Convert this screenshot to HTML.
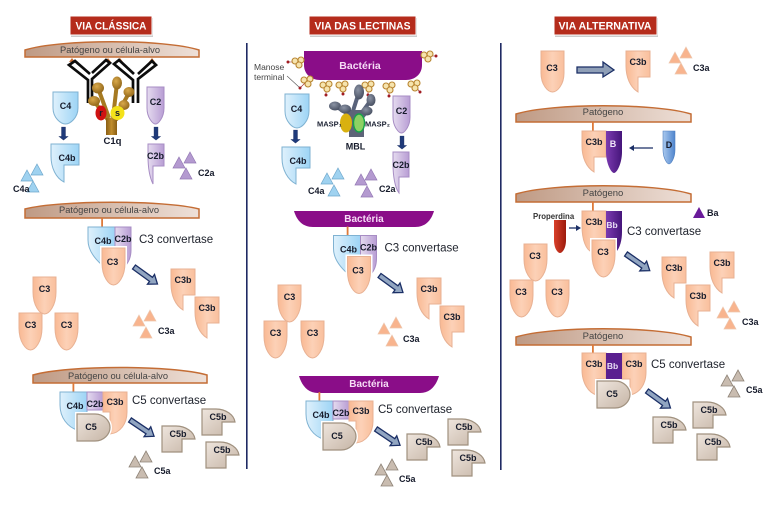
<!DOCTYPE html>
<html><head><meta charset="utf-8"><style>
html,body{margin:0;padding:0;background:#fff}
svg{display:block}
text{font-family:"Liberation Sans",sans-serif}
.l{font-size:9px;font-weight:bold;fill:#161b2b;text-anchor:middle}
.a{font-size:9px;font-weight:bold;fill:#161b2b}
.m{font-size:9.5px;fill:#444;text-anchor:middle}
.t{font-size:11px;font-weight:bold;fill:#fff;text-anchor:middle}
.c{font-size:11.5px;fill:#20242e}
.b{font-size:10px;font-weight:bold;fill:#f6dcf6;text-anchor:middle}
.o{fill:url(#go);stroke:#e8b193;stroke-width:1}
.bl{fill:url(#gb);stroke:#7fb2d2;stroke-width:1}
.p{fill:url(#gp);stroke:#a78dc4;stroke-width:1}
.g{fill:url(#gg);stroke:#a0917f;stroke-width:1.2}
.halo{fill:none;stroke:#fff;stroke-width:4}
.mem{fill:url(#gm);stroke:#c46d35;stroke-width:1.5}
.bac{fill:#8a0d88}
.ar{fill:#91a5c1;stroke:#1b2f66;stroke-width:1.3}
.ds{fill:#1f3a7a;stroke:#1b2f66;stroke-width:.8}
.tro{fill:#f8b48e;stroke:#ecc6ae;stroke-width:.7}
.trb{fill:#9fd2f0;stroke:#6fa8cc;stroke-width:.7}
.trp{fill:#b49ad0;stroke:#9479b4;stroke-width:.7}
.trg{fill:#c9bcb0;stroke:#8f8478;stroke-width:.8}
.man{fill:#f6e4ae;stroke:#b98632;stroke-width:1.1}
</style></head><body>
<svg width="767" height="508" viewBox="0 0 767 508" xmlns="http://www.w3.org/2000/svg">
<defs>
<linearGradient id="go" x1="0" y1="0" x2="1" y2="0"><stop offset="0" stop-color="#f9b993"/><stop offset=".5" stop-color="#fcd1b7"/><stop offset="1" stop-color="#f9bf9c"/></linearGradient>
<linearGradient id="gb" x1="0" y1="0" x2="1" y2="0"><stop offset="0" stop-color="#dff1fc"/><stop offset="1" stop-color="#9dd4f5"/></linearGradient>
<linearGradient id="gp" x1="0" y1="0" x2="1" y2="0"><stop offset="0" stop-color="#e5dbef"/><stop offset="1" stop-color="#b89dd4"/></linearGradient>
<linearGradient id="gg" x1="0" y1="0" x2="1" y2="1"><stop offset="0" stop-color="#eee5dd"/><stop offset="1" stop-color="#c6b5a6"/></linearGradient>
<linearGradient id="gm" x1="0" y1="0" x2="1" y2="0"><stop offset="0" stop-color="#bf9a84"/><stop offset="1" stop-color="#eee0d8"/></linearGradient>
<linearGradient id="gv" x1="0" y1="0" x2="1" y2="0"><stop offset="0" stop-color="#7b3ab0"/><stop offset="1" stop-color="#45157a"/></linearGradient>
<linearGradient id="gd" x1="0" y1="0" x2="1" y2="0"><stop offset="0" stop-color="#a9c8ee"/><stop offset="1" stop-color="#4f85cd"/></linearGradient>
<linearGradient id="gr" x1="0" y1="0" x2="1" y2="0"><stop offset="0" stop-color="#d9402a"/><stop offset="1" stop-color="#9c1a0c"/></linearGradient>
<linearGradient id="gy" x1="0" y1="0" x2="1" y2="0"><stop offset="0" stop-color="#8a5e14"/><stop offset=".5" stop-color="#c08d2d"/><stop offset="1" stop-color="#8a5e14"/></linearGradient>
<radialGradient id="gbl" cx=".4" cy=".35" r=".7"><stop offset="0" stop-color="#d9a94b"/><stop offset="1" stop-color="#8f6418"/></radialGradient>
<radialGradient id="gsl" cx=".4" cy=".35" r=".7"><stop offset="0" stop-color="#8b93a4"/><stop offset="1" stop-color="#444c5e"/></radialGradient>

<path id="c3" d="M0,0H23V15C23,29 16,37 11.5,37C7,37 0,29 0,15Z"/>
<path id="c3b" d="M0,0H24V26H12V41C4,36 0,26 0,15Z"/>
<path id="c5b" d="M0,0H14C24,0 32,6 33,13H20V26H0Z"/>
<path id="c5" d="M0,0H18C27,0 33,7 33,13.5C33,20 27,27 18,27H0Z"/>
<path id="tr" d="M0,-6L6,5H-6Z"/>
<path id="arr" d="M0,-2.5H21V-6L29,0L21,6V2.5H0Z"/>
<g id="man"><circle class="man" cx="-3" cy="-1" r="3"/><circle class="man" cx="3" cy="-2" r="3"/><circle class="man" cx="1" cy="3" r="3"/></g>
</defs>

<rect width="767" height="508" fill="#fff"/>

<!-- separators -->
<rect x="246" y="43" width="1.6" height="426" fill="#1f2a63"/>
<rect x="500" y="43" width="1.6" height="427" fill="#1f2a63"/>

<!-- titles -->
<g>
<rect x="71" y="18" width="82" height="19" fill="#ccc"/>
<rect x="70" y="16" width="82" height="19" fill="#b52c1c" stroke="#fff" stroke-width="1"/>
<text class="t" x="111" y="29.5" textLength="71" lengthAdjust="spacingAndGlyphs">VIA CLÁSSICA</text>
<rect x="310" y="18" width="107" height="19" fill="#ccc"/>
<rect x="309" y="16" width="107" height="19" fill="#b52c1c" stroke="#fff" stroke-width="1"/>
<text class="t" x="362.5" y="29.5" textLength="96" lengthAdjust="spacingAndGlyphs">VIA DAS LECTINAS</text>
<rect x="555" y="18" width="103" height="19" fill="#ccc"/>
<rect x="554" y="16" width="103" height="19" fill="#b52c1c" stroke="#fff" stroke-width="1"/>
<text class="t" x="605" y="29.5" textLength="93" lengthAdjust="spacingAndGlyphs">VIA ALTERNATIVA</text>
</g>

<!-- ===== COLUMN 1 ===== -->
<path class="mem" d="M25,57V50C60,39 164,39 199,50V57Z"/>
<text class="m" x="110" y="53" textLength="100" lengthAdjust="spacingAndGlyphs">Patógeno ou célula-alvo</text>
<g fill="#c46d35"><path d="M72,58l-3,4h6zM108,58l-3,4h6zM120,58l-3,4h6zM152,58l-3,4h6z"/></g>

<!-- antibodies -->
<g fill="none" stroke="#0c0c0c" stroke-width="2.7">
<path d="M88,103V80L69,65L75,61L90,74"/><path d="M92,103V79L110,63L106,60L92,73"/>
<path d="M133,103V80L114,64L119,60L134,74"/><path d="M138,103V79L156,65L152,61L138,74"/>
</g>
<!-- C1q -->
<g stroke="#a67a22" stroke-width="4" fill="none">
<path d="M109,118L98,88"/><path d="M108,120L94,101"/><path d="M113,118L117,83"/><path d="M115,118L129,93"/><path d="M116,120L124,105"/>
</g>
<rect x="106" y="118" width="11" height="17" fill="url(#gy)"/>
<g fill="url(#gbl)"><ellipse cx="98" cy="88" rx="6" ry="5.500"/><ellipse cx="94" cy="101" rx="6" ry="5"/><ellipse cx="117" cy="83" rx="5" ry="6.500"/><ellipse cx="129" cy="92" rx="5.500" ry="5"/><ellipse cx="124" cy="105" rx="5.500" ry="5"/></g>
<ellipse cx="101" cy="113" rx="5.500" ry="7.500" fill="#cf1212"/>
<ellipse cx="117.500" cy="113" rx="7" ry="7" fill="#f4e21a"/>
<text class="l" x="101" y="116">r</text><text class="l" x="117.500" y="116">s</text>
<text class="l" x="112.500" y="144" style="font-size:9.500px">C1q</text>

<path class="bl" d="M53,92H78V108C78,118 70,124 65.500,124C61,124 53,118 53,108Z"/>
<text class="l" x="65.500" y="109">C4</text>
<path class="p" d="M147,87H164V108C164,118 158,124 155.500,124C153,124 147,118 147,108Z"/>
<text class="l" x="155.500" y="105">C2</text>
<g transform="translate(63.500,127) rotate(90)"><use href="#arr" class="ds" transform="scale(.45,.75)"/></g>
<g transform="translate(156,127) rotate(90)"><use href="#arr" class="ds" transform="scale(.45,.75)"/></g>
<path class="bl" d="M51,144H79V165H64V182C56,178 51,168 51,156Z"/>
<text class="l" x="67" y="161">C4b</text>
<path class="p" d="M148,144H164V166H153V184C150,178 148,168 148,156Z"/>
<text class="l" x="155.500" y="159">C2b</text>
<use href="#tr" class="trb" x="27" y="176"/><use href="#tr" class="trb" x="37" y="170"/><use href="#tr" class="trb" x="33" y="187"/>
<text class="a" x="13" y="192">C4a</text>
<use href="#tr" class="trp" x="179" y="163"/><use href="#tr" class="trp" x="190" y="158"/><use href="#tr" class="trp" x="186" y="174"/>
<text class="a" x="198" y="176">C2a</text>

<!-- C3 convertase col 1 -->
<path class="mem" d="M25,218V209C60,200 164,200 199,209V218Z"/>
<text class="m" x="109" y="213" textLength="100" lengthAdjust="spacingAndGlyphs">Patógeno ou célula-alvo</text>
<g id="conv3">
<rect x="101.200" y="218" width="1.800" height="9" fill="#dd7a3a"/>
<path class="bl" d="M88,227H115V265H102C94,258 88,250 88,240Z"/>
<path class="p" d="M115,227H131V250C131,258 128,263 125,266V248H115Z"/>
<use href="#c3" class="halo" x="102" y="248"/>
<use href="#c3" class="o" x="102" y="248"/>
<text class="l" x="103" y="244">C4b</text><text class="l" x="123" y="242">C2b</text><text class="l" x="112.500" y="265">C3</text>
<text class="c" x="139" y="243">C3 convertase</text>
<use href="#arr" class="ar" transform="translate(134,267) rotate(36)"/>
</g>
<use href="#c3" class="o" x="33" y="277"/><text class="l" x="44.500" y="292">C3</text>
<use href="#c3" class="o" x="19" y="313"/><text class="l" x="30.500" y="328">C3</text>
<use href="#c3" class="o" x="55" y="313"/><text class="l" x="66.500" y="328">C3</text>
<use href="#c3b" class="o" x="171" y="269"/><text class="l" x="183" y="283">C3b</text>
<use href="#c3b" class="o" x="195" y="297"/><text class="l" x="207" y="311">C3b</text>
<use href="#tr" class="tro" x="139" y="321"/><use href="#tr" class="tro" x="150" y="316"/><use href="#tr" class="tro" x="146" y="333"/>
<text class="a" x="158" y="334">C3a</text>

<!-- C5 convertase col 1 -->
<path class="mem" d="M33,383V375C68,365 172,365 207,375V383Z"/>
<text class="m" x="118" y="379" textLength="100" lengthAdjust="spacingAndGlyphs">Patógeno ou célula-alvo</text>
<g id="conv5">
<rect x="72.500" y="383" width="1.800" height="9" fill="#dd7a3a"/>
<path class="bl" d="M60,392H87V414H77V430C68,427 60,418 60,405Z"/>
<path class="p" d="M87,392H103V410H87Z"/>
<path class="o" d="M103,392H127V412C127,424 120,433 110,434V412H103Z"/>
<use href="#c5" class="halo" x="77" y="414"/>
<use href="#c5" class="g" x="77" y="414"/>
<text class="l" x="75" y="409">C4b</text><text class="l" x="95" y="407">C2b</text><text class="l" x="115" y="405">C3b</text><text class="l" x="91" y="430">C5</text>
<text class="c" x="132" y="404">C5 convertase</text>
<use href="#arr" class="ar" transform="translate(130,420) rotate(34)"/>
</g>
<use href="#c5b" class="g" x="162" y="426"/><text class="l" x="178" y="437">C5b</text>
<use href="#c5b" class="g" x="202" y="409"/><text class="l" x="218" y="420">C5b</text>
<use href="#c5b" class="g" x="206" y="442"/><text class="l" x="222" y="453">C5b</text>
<use href="#tr" class="trg" x="135" y="462"/><use href="#tr" class="trg" x="146" y="457"/><use href="#tr" class="trg" x="142" y="473"/>
<text class="a" x="154" y="474">C5a</text>

<!-- ===== COLUMN 2 ===== -->
<path class="bac" d="M304,51H422V65C422,74 415,80 406,80H320C311,80 304,74 304,65Z"/>
<text class="b" x="360" y="69" style="font-size:10.500px">Bactéria</text>
<!-- mannose -->
<g stroke="#a0262a" stroke-width=".6" fill="#a3141c">
<path d="M288,62L298,62M300,88L307,81M326,95V86M343,94L342,86M368,95V86M389,96V87M420,92L414,85M436,56L427,56" fill="none"/>
<circle cx="288" cy="62" r="1.200"/><circle cx="300" cy="88" r="1.200"/><circle cx="326" cy="95" r="1.200"/><circle cx="343" cy="94" r="1.200"/><circle cx="368" cy="95" r="1.200"/><circle cx="389" cy="96" r="1.200"/><circle cx="420" cy="92" r="1.200"/><circle cx="436" cy="56" r="1.200"/>
</g>
<use href="#man" x="298" y="62"/><use href="#man" x="307" y="81"/><use href="#man" x="326" y="86"/><use href="#man" x="342" y="86"/><use href="#man" x="368" y="86"/><use href="#man" x="389" y="87"/><use href="#man" x="414" y="85"/><use href="#man" x="427" y="56"/>
<text x="254" y="70" font-size="8.500" fill="#444">Manose</text>
<text x="254" y="80" font-size="8.500" fill="#444">terminal</text>
<path d="M287,76L299,87" stroke="#555" stroke-width=".6" fill="none"/>

<!-- MBL -->
<g stroke="#59627a" stroke-width="4" fill="none"><path d="M352,114L359,92"/><path d="M353,117L337,107"/><path d="M353,120L345,109"/><path d="M360,115L371,100"/><path d="M360,120L367,111"/></g>
<rect x="349" y="110" width="15" height="27" fill="#5d6478"/>
<g fill="url(#gsl)"><ellipse cx="359" cy="92" rx="5" ry="7.500"/><ellipse cx="335" cy="106" rx="6" ry="4.500"/><ellipse cx="345" cy="109" rx="6" ry="4.500"/><ellipse cx="371" cy="100" rx="4.500" ry="6"/><ellipse cx="367" cy="111" rx="5.500" ry="4.500"/></g>
<ellipse cx="346" cy="123" rx="6" ry="9.500" fill="#d9b10f"/>
<ellipse cx="359" cy="123" rx="5.500" ry="9" fill="#8dd163" stroke="#18a24a" stroke-width="1.400"/>
<text x="317" y="126.500" font-size="7.500" font-weight="bold" fill="#1c2233">MASP₁</text>
<text x="365" y="126.500" font-size="7.500" font-weight="bold" fill="#1c2233">MASP₂</text>
<text class="l" x="355.500" y="149.500">MBL</text>

<path class="bl" d="M285,94H309V111C309,122 301,128 297,128C293,128 285,122 285,111Z"/>
<text class="l" x="296.500" y="112">C4</text>
<path class="p" d="M393,96H410V117C410,127 404,133 401.500,133C399,133 393,127 393,117Z"/>
<text class="l" x="401.500" y="114">C2</text>
<g transform="translate(295.500,130) rotate(90)"><use href="#arr" class="ds" transform="scale(.45,.75)"/></g>
<g transform="translate(402,136) rotate(90)"><use href="#arr" class="ds" transform="scale(.45,.75)"/></g>
<path class="bl" d="M282,147H310V168H296V184C288,180 282,170 282,158Z"/>
<text class="l" x="298" y="164">C4b</text>
<path class="p" d="M393,152H409V177H399V193C395,188 393,176 393,164Z"/>
<text class="l" x="401" y="168">C2b</text>
<use href="#tr" class="trb" x="327" y="179"/><use href="#tr" class="trb" x="338" y="174"/><use href="#tr" class="trb" x="334" y="191"/>
<text class="a" x="308" y="194">C4a</text>
<use href="#tr" class="trp" x="361" y="180"/><use href="#tr" class="trp" x="371" y="175"/><use href="#tr" class="trp" x="367" y="192"/>
<text class="a" x="379" y="192">C2a</text>

<path class="bac" d="M294,211H434C431,221 425,227 415,227H313C303,227 297,221 294,211Z"/>
<text class="b" x="364" y="222">Bactéria</text>
<use href="#conv3" transform="translate(245.500,8.500)"/>
<use href="#c3" class="o" x="278" y="285"/><text class="l" x="289.500" y="300">C3</text>
<use href="#c3" class="o" x="264" y="321"/><text class="l" x="275.500" y="336">C3</text>
<use href="#c3" class="o" x="301" y="321"/><text class="l" x="312.500" y="336">C3</text>
<use href="#c3b" class="o" x="417" y="278"/><text class="l" x="429" y="292">C3b</text>
<use href="#c3b" class="o" x="440" y="306"/><text class="l" x="452" y="320">C3b</text>
<use href="#tr" class="tro" x="384" y="329"/><use href="#tr" class="tro" x="396" y="323"/><use href="#tr" class="tro" x="392" y="341"/>
<text class="a" x="403" y="342">C3a</text>

<path class="bac" d="M299,376H439C436,386 430,393 420,393H318C308,393 302,386 299,376Z"/>
<text class="b" x="369" y="387">Bactéria</text>
<use href="#conv5" transform="translate(246,9)"/>
<use href="#c5b" class="g" x="407" y="434"/><text class="l" x="424" y="445">C5b</text>
<use href="#c5b" class="g" x="448" y="419"/><text class="l" x="464" y="430">C5b</text>
<use href="#c5b" class="g" x="452" y="450"/><text class="l" x="468" y="461">C5b</text>
<use href="#tr" class="trg" x="381" y="470"/><use href="#tr" class="trg" x="392" y="465"/><use href="#tr" class="trg" x="387" y="481"/>
<text class="a" x="399" y="482">C5a</text>

<!-- ===== COLUMN 3 ===== -->
<path class="o" d="M541,51H564V73C564,85 557,92 552.500,92C548,92 541,85 541,73Z"/>
<text class="l" x="552" y="71">C3</text>
<path d="M577,67H603V62L614,70L603,77V73H577Z" fill="#8f9fb7" stroke="#1b2f66" stroke-width="1.300"/>
<use href="#c3b" class="o" x="626" y="51"/><text class="l" x="638" y="65">C3b</text>
<use href="#tr" class="tro" x="675" y="58"/><use href="#tr" class="tro" x="686" y="53"/><use href="#tr" class="tro" x="681" y="69"/>
<text class="a" x="693" y="71">C3a</text>

<path class="mem" d="M516,122V114C552,103 655,103 691,114V122Z"/>
<text class="m" x="603" y="115">Patógeno</text>
<rect x="592" y="122" width="1.800" height="9" fill="#dd7a3a"/>
<use href="#c3b" class="o" x="582" y="131"/>
<path d="M606,131H622V152C622,163 617,173 614,173C611,173 606,163 606,152Z" fill="url(#gv)"/>
<text class="l" x="594" y="145">C3b</text>
<text class="l" x="613" y="147" style="fill:#f0e6f8">B</text>
<path d="M663,131H675V150C675,158 671,164 669,164C667,164 663,158 663,150Z" fill="url(#gd)" stroke="#4f7fbf" stroke-width=".6"/>
<text class="l" x="669" y="148">D</text>
<path d="M653,148H631" stroke="#1b2f66" stroke-width="1.300" fill="none"/><path d="M629,148l5,-3v6z" fill="#1b2f66"/>

<path class="mem" d="M516,202V194C552,183 655,183 691,194V202Z"/>
<text class="m" x="603" y="196">Patógeno</text>
<rect x="592" y="202" width="1.800" height="9" fill="#dd7a3a"/>
<path class="o" d="M582,211H606V240H592V252C586,250 582,240 582,226Z"/>
<path d="M606,211H622V232C622,240 620,248 616,252V240H606Z" fill="url(#gv)"/>
<use href="#c3" class="halo" x="592" y="240"/>
<use href="#c3" class="o" x="592" y="240"/>
<text class="l" x="594" y="225">C3b</text>
<text class="l" x="612" y="228" style="fill:#eadff5;font-size:8.500px">Bb</text>
<text class="l" x="603" y="255">C3</text>
<text x="533" y="219" font-size="7.800" font-weight="bold" fill="#333">Properdina</text>
<path d="M554,220H566V240C566,249 562,253 560,253C558,253 554,249 554,240Z" fill="url(#gr)"/>
<path d="M569,228H579" stroke="#1b2f66" stroke-width="1.300" fill="none"/><path d="M581,228l-5,-3v6z" fill="#1b2f66"/>
<text class="c" x="627" y="235">C3 convertase</text>
<path d="M699,207l6,11h-12z" fill="#6a1b9a"/>
<text class="a" x="707" y="216">Ba</text>
<use href="#arr" class="ar" transform="translate(626,254) rotate(35)"/>
<use href="#c3" class="o" x="524" y="244"/><text class="l" x="535" y="259">C3</text>
<use href="#c3" class="o" x="510" y="280"/><text class="l" x="521" y="295">C3</text>
<use href="#c3" class="o" x="546" y="280"/><text class="l" x="557" y="295">C3</text>
<use href="#c3b" class="o" x="662" y="257"/><text class="l" x="674" y="271">C3b</text>
<use href="#c3b" class="o" x="710" y="252"/><text class="l" x="722" y="266">C3b</text>
<use href="#c3b" class="o" x="686" y="285"/><text class="l" x="698" y="299">C3b</text>
<use href="#tr" class="tro" x="723" y="313"/><use href="#tr" class="tro" x="734" y="307"/><use href="#tr" class="tro" x="730" y="324"/>
<text class="a" x="742" y="325">C3a</text>

<path class="mem" d="M516,345V337C552,326 655,326 691,337V345Z"/>
<text class="m" x="603" y="339">Patógeno</text>
<rect x="592" y="345" width="1.800" height="8" fill="#dd7a3a"/>
<path class="o" d="M582,353H606V379H597V395C588,393 582,382 582,370Z"/>
<path class="o" d="M622,353H646V372C646,384 640,393 630,395V379H622Z"/>
<rect x="606" y="353" width="16" height="26" fill="#5a1f90"/>
<use href="#c5" class="halo" x="597" y="381"/>
<use href="#c5" class="g" x="597" y="381"/>
<text class="l" x="594" y="367">C3b</text>
<text class="l" x="612.500" y="369" style="fill:#eadff5;font-size:8.500px">Bb</text>
<text class="l" x="634" y="367">C3b</text>
<text class="l" x="612" y="397">C5</text>
<text class="c" x="651" y="368">C5 convertase</text>
<use href="#arr" class="ar" transform="translate(647,391) rotate(36)"/>
<use href="#c5b" class="g" x="653" y="417"/><text class="l" x="669" y="428">C5b</text>
<use href="#c5b" class="g" x="693" y="402"/><text class="l" x="709" y="413">C5b</text>
<use href="#c5b" class="g" x="697" y="434"/><text class="l" x="713" y="445">C5b</text>
<use href="#tr" class="trg" x="727" y="381"/><use href="#tr" class="trg" x="738" y="376"/><use href="#tr" class="trg" x="734" y="392"/>
<text class="a" x="746" y="393">C5a</text>
</svg>
</body></html>
